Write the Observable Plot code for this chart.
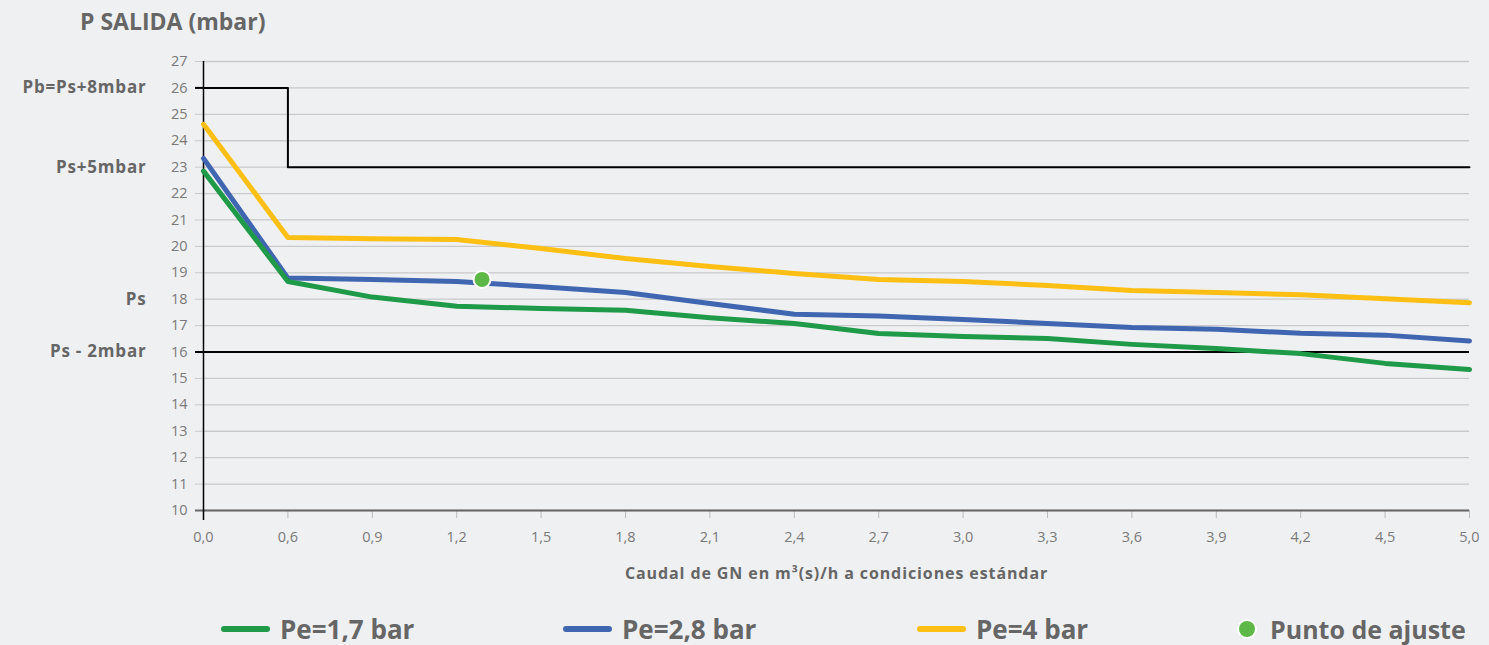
<!DOCTYPE html>
<html><head><meta charset="utf-8">
<script src="https://cdn.jsdelivr.net/npm/d3@7"></script>
<script src="https://cdn.jsdelivr.net/npm/@observablehq/plot@0.6"></script>
<style>
body{margin:0;background:#eff0f2;font-family:"Open Sans",sans-serif;width:1489px;height:645px;overflow:hidden;position:relative}
#title{position:absolute;left:80px;top:5px;font-size:23px;font-weight:bold;color:#666;white-space:nowrap}
#chart{position:absolute;left:0;top:40px}
.leg{position:absolute;top:613px;font-size:26px;font-weight:bold;color:#666;display:flex;align-items:center;white-space:nowrap;line-height:32px}
.sw{display:inline-block;width:49px;height:6px;border-radius:3px;margin-right:10px}
.dot{display:inline-block;width:16px;height:16px;border-radius:50%;background:#5db847;border:2px solid #fff;margin-right:13px}
</style></head>
<body>
<div id="title">P SALIDA (mbar)</div>
<div id="chart"></div>
<div id="legend"></div>
<script>
const xLabels = ["0,0","0,6","0,9","1,2","1,5","1,8","2,1","2,4","2,7","3,0","3,3","3,6","3,9","4,2","4,5","5,0"];
const xValues = [0, 0.6, 0.9, 1.2, 1.5, 1.8, 2.1, 2.4, 2.7, 3.0, 3.3, 3.6, 3.9, 4.2, 4.5, 5.0];
const pe17 = [22.85, 18.67, 18.08, 17.73, 17.65, 17.58, 17.3, 17.08, 16.7, 16.59, 16.51, 16.29, 16.13, 15.94, 15.57, 15.34];
const pe28 = [23.33, 18.8, 18.75, 18.67, 18.47, 18.25, 17.84, 17.43, 17.36, 17.23, 17.08, 16.93, 16.86, 16.71, 16.64, 16.42];
const pe4  = [24.62, 20.34, 20.29, 20.26, 19.92, 19.54, 19.24, 18.97, 18.75, 18.67, 18.52, 18.33, 18.25, 18.17, 18.02, 17.87];
const seriesNames = ["Pe=1,7 bar", "Pe=2,8 bar", "Pe=4 bar"];
const seriesColors = ["#1e9a48", "#4166b1", "#fdbf14"];
const limiteX = [0, 0.6, 5.0];
const limiteY = [26, 23, 23];
const minimoY = [16];
const puntoX = [1.29];
const puntoY = [18.75];
const puntoName = "Punto de ajuste";
const yTicks = d3.range(10, 28);
const yRefTicks = [26, 23, 18, 16];
const yRefLabels = ["Pb=Ps+8mbar", "Ps+5mbar", "Ps", "Ps - 2mbar"];
const xAxisLabel = "Caudal de GN en m³(s)/h a condiciones estándar";

const toIndex = d3.scaleLinear(xValues, d3.range(xValues.length));
const seriesData = [pe4, pe28, pe17].map((vals, k) => vals.map((v, i) => ({i, v, s: [2,1,0][k]}))).flat();
const limite = limiteX.map((x, i) => ({x: toIndex(x), y: limiteY[i]}));
const punto = puntoX.map((x, i) => ({x: toIndex(x), y: puntoY[i]}));

const chart = Plot.plot({
  width: 1489, height: 570,
  marginLeft: 203, marginRight: 20, marginTop: 21, marginBottom: 100,
  style: {background: "transparent", fontFamily: "'Open Sans', sans-serif"},
  x: {type: "linear", domain: [0, xValues.length - 1], axis: null},
  y: {domain: [10, 27], axis: null},
  marks: [
    Plot.ruleY(yTicks, {stroke: "#c9c9c9", strokeWidth: 1.3}),
    Plot.axisY({ticks: yTicks, tickSize: 8, tickPadding: 8, stroke: "#c9c9c9", fill: "#7a7a7a", fontSize: 14.5}),
    Plot.axisY({ticks: [26, 16], tickSize: 8, stroke: "black", strokeWidth: 2, tickFormat: () => ""}),
    Plot.axisY({ticks: [10], tickSize: 8, stroke: "#666", strokeWidth: 2, tickFormat: () => ""}),
    Plot.axisY({ticks: yRefTicks, tickSize: 0, tickPadding: 57, fill: "#666", fontSize: 17, fontWeight: "bold",
      tickFormat: d => yRefLabels[yRefTicks.indexOf(d)]}),
    Plot.axisX({ticks: d3.range(xValues.length), tickFormat: i => xLabels[i], tickSize: 8, tickPadding: 13,
      stroke: "#bbb", fill: "#7a7a7a", fontSize: 14.5}),
    Plot.ruleY([10], {stroke: "#666", strokeWidth: 2}),
    Plot.ruleX([0], {y1: 10, y2: 27, stroke: "black", strokeWidth: 1.5}),
    Plot.axisX({ticks: [0], tickSize: 10, stroke: "black", strokeWidth: 1.5, tickFormat: () => ""}),
    Plot.ruleY(minimoY, {stroke: "black", strokeWidth: 2}),
    Plot.line(limite, {x: "x", y: "y", curve: "step-after", stroke: "black", strokeWidth: 2}),
    Plot.line(seriesData, {x: "i", y: "v", z: "s", stroke: d => seriesColors[d.s], strokeWidth: 5,
      strokeLinecap: "round", strokeLinejoin: "round"}),
    Plot.dot(punto, {x: "x", y: "y", r: 8.5, fill: "#5db847", stroke: "white", strokeWidth: 2}),
    Plot.text([xAxisLabel], {text: d => d, frameAnchor: "bottom", dy: 63, fontWeight: "bold", fontSize: 16, fill: "#666", lineAnchor: "middle"})
  ]
});
document.getElementById("chart").appendChild(chart);
d3.select(chart).selectAll("text")
  .filter(function() { return yRefLabels.includes(this.textContent); })
  .attr("letter-spacing", "0.8px");
d3.select(chart).selectAll("text")
  .filter(function() { return this.textContent === xAxisLabel; })
  .attr("letter-spacing", "0.9px");

const legendPos = [221, 563, 917];
const legend = document.getElementById("legend");
seriesNames.forEach((n, k) => {
  const d = document.createElement("div");
  d.className = "leg"; d.style.left = legendPos[k] + "px";
  d.innerHTML = `<span class="sw" style="background:${seriesColors[k]}"></span><span>${n}</span>`;
  legend.appendChild(d);
});
const dp = document.createElement("div");
dp.className = "leg"; dp.style.left = "1237px"; dp.style.fontSize = "25px";
dp.innerHTML = `<span class="dot"></span><span>${puntoName}</span>`;
legend.appendChild(dp);
</script>
</body></html>
